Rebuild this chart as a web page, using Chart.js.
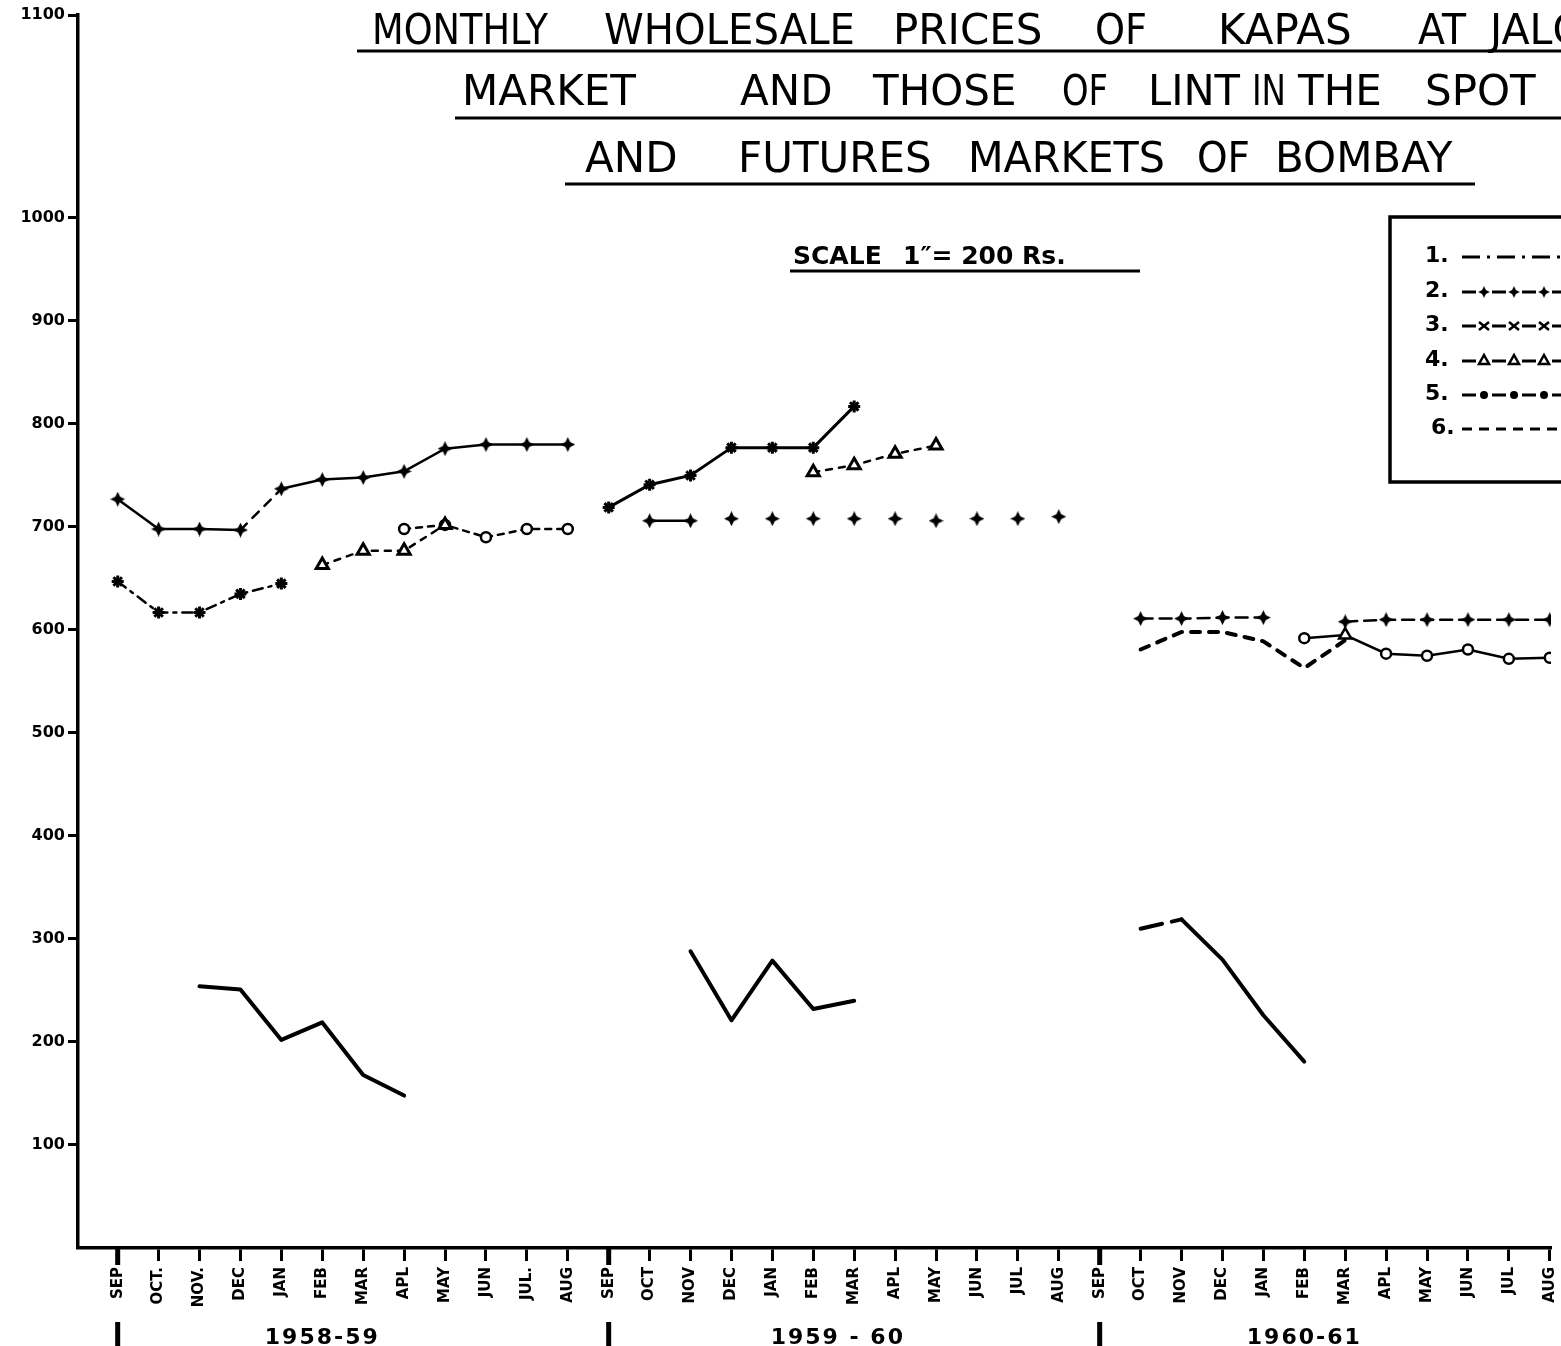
<!DOCTYPE html>
<html>
<head>
<meta charset="utf-8">
<title>Kapas and lint prices</title>
<script src="https://cdn.jsdelivr.net/npm/chart.js@4.4.1/dist/chart.umd.min.js"></script>
<style>
  html, body { margin: 0; padding: 0; background: #fff; overflow: hidden; }
  canvas { display: block; }
</style>
</head>
<body>
<canvas id="priceChart" width="1561" height="1346"></canvas>
<script>
// months Sep 1958 .. Aug 1961, spelled as on the sheet
const months = ['SEP','OCT.','NOV.','DEC','JAN','FEB','MAR','APL','MAY','JUN','JUL.','AUG',
                'SEP','OCT','NOV','DEC','JAN','FEB','MAR','APL','MAY','JUN','JUL','AUG',
                'SEP','OCT','NOV','DEC','JAN','FEB','MAR','APL','MAY','JUN','JUL','AUG'];
const yearLabels = ['1958-59', '1959 - 60', '1960-61'];
const yTicks = [100, 200, 300, 400, 500, 600, 700, 800, 900, 1000];
const yTopLabel = '1100';
const legendLabels = ['1.', '2.', '3.', '4.', '5.', '6.'];
const titleLines = ['MONTHLY WHOLESALE PRICES OF KAPAS AT JALGAON',
                    'MARKET AND THOSE OF LINT IN THE SPOT',
                    'AND FUTURES MARKETS OF BOMBAY'];
const scaleNote = ['SCALE', '1\u2033= 200 Rs.'];

// Rs. per unit, one slot per month (null = not plotted)
const kapas     = [null,null,254,251,202,219,168,148,null,null,null,null,
                   null,null,288,221,279,232,240,null,null,null,null,null,
                   null,310,319,280,226,181,null,null,null,null,null,null];
const diamond   = [727,698,698,697,737,746,748,754,776,780,780,780,
                   null,null,null,null,null,null,null,null,null,null,null,null,
                   null,null,null,null,null,null,null,null,null,null,null,null];
const plusMarks = [null,null,null,null,null,null,null,null,null,null,null,null,
                   null,706,706,708,708,708,708,708,706,708,708,710,
                   null,null,null,null,null,null,null,null,null,null,null,null];
const plusDashed= [null,null,null,null,null,null,null,null,null,null,null,null,
                   null,null,null,null,null,null,null,null,null,null,null,null,
                   null,611,611,612,612,null,608,610,610,610,610,610];
const starLower = [647,617,617,635,645,null,null,null,null,null,null,null,
                   null,null,null,null,null,null,null,null,null,null,null,null,
                   null,null,null,null,null,null,null,null,null,null,null,null];
const starUpper = [null,null,null,null,null,null,null,null,null,null,null,null,
                   719,741,750,777,777,777,817,null,null,null,null,null,
                   null,null,null,null,null,null,null,null,null,null,null,null];
const triangles = [null,null,null,null,null,663,677,677,702,null,null,null,
                   null,null,null,null,null,753,760,771,779,null,null,null,
                   null,null,null,null,null,null,null,null,null,null,null,null];
const circlesA  = [null,null,null,null,null,null,null,698,702,690,698,698,
                   null,null,null,null,null,null,null,null,null,null,null,null,
                   null,null,null,null,null,null,null,null,null,null,null,null];
const circlesB  = [null,null,null,null,null,null,null,null,null,null,null,null,
                   null,null,null,null,null,null,null,null,null,null,null,null,
                   null,null,null,null,null,592,595,577,575,581,572,573];
const dashed6   = [null,null,null,null,null,null,null,null,null,null,null,null,
                   null,null,null,null,null,null,null,null,null,null,null,null,
                   null,581,598,598,589,563,590,null,null,null,null,null];

const toXY = arr => arr.map((v, i) => ({ x: i, y: v }));

// four pointed star marker like the hand drawn ones
function makeStar4(size) {
  const c = document.createElement('canvas');
  c.width = c.height = size;
  const g = c.getContext('2d');
  const m = size / 2, k = size * 0.16;
  g.beginPath();
  g.moveTo(m, 0); g.lineTo(m + k, m - k); g.lineTo(size, m); g.lineTo(m + k, m + k);
  g.lineTo(m, size); g.lineTo(m - k, m + k); g.lineTo(0, m); g.lineTo(m - k, m - k);
  g.closePath();
  g.fill();
  return c;
}
const star4 = makeStar4(15);

const base = { borderColor: '#000', pointBorderColor: '#000', pointBackgroundColor: '#000',
               borderWidth: 2.5, spanGaps: false, borderCapStyle: 'round' };

const datasets = [
  Object.assign({}, base, { label: '1', data: toXY(kapas), borderWidth: 4, pointRadius: 0, borderJoinStyle: 'round',
    segment: { borderDash: c => c.p0DataIndex === 25 ? [22, 10] : undefined } }),
  Object.assign({}, base, { label: '2', data: toXY(diamond), pointStyle: star4,
    segment: { borderDash: c => c.p0DataIndex === 3 ? [9, 8] : undefined } }),
  Object.assign({}, base, { label: '2', data: toXY(plusMarks), pointStyle: star4,
    segment: { borderColor: c => c.p0DataIndex === 13 ? '#000' : 'rgba(0,0,0,0)' } }),
  Object.assign({}, base, { label: '2', data: toXY(plusDashed), pointStyle: star4, borderDash: [12, 7] }),
  Object.assign({}, base, { label: '3', data: toXY(starLower), pointStyle: 'star', pointRadius: 6,
    pointBorderWidth: 3, borderDash: [10, 6, 3, 6] }),
  Object.assign({}, base, { label: '3', data: toXY(starUpper), pointStyle: 'star', pointRadius: 6,
    pointBorderWidth: 3, borderWidth: 3 }),
  Object.assign({}, base, { label: '4', data: toXY(triangles), pointStyle: 'triangle', pointRadius: 7,
    pointBackgroundColor: '#fff', pointBorderWidth: 3, borderDash: [6, 7] }),
  Object.assign({}, base, { label: '5', data: toXY(circlesA), pointStyle: 'circle', pointRadius: 5,
    pointBackgroundColor: '#fff', pointBorderWidth: 2.5, borderDash: [6, 6] }),
  Object.assign({}, base, { label: '5', data: toXY(circlesB),
    pointStyle: circlesB.map((v, i) => i === 30 ? 'triangle' : 'circle'),
    pointRadius: circlesB.map((v, i) => i === 30 ? 7 : 5),
    pointBackgroundColor: '#fff', pointBorderWidth: 2.5 }),
  Object.assign({}, base, { label: '6', data: toXY(dashed6), pointRadius: 0, borderWidth: 4, borderDash: [9, 9] })
];

function drawMarker(ctx, kind, x, y) {
  ctx.save();
  ctx.setLineDash([]);
  ctx.lineWidth = 2.5;
  if (kind === 'star4') {
    ctx.drawImage(star4, x - 6, y - 6, 12, 12);
  } else if (kind === 'x') {
    ctx.beginPath();
    ctx.moveTo(x - 5, y - 4); ctx.lineTo(x + 5, y + 4);
    ctx.moveTo(x - 5, y + 4); ctx.lineTo(x + 5, y - 4);
    ctx.stroke();
  } else if (kind === 'tri') {
    ctx.beginPath();
    ctx.moveTo(x, y - 6); ctx.lineTo(x + 5, y + 3); ctx.lineTo(x - 5, y + 3); ctx.closePath();
    ctx.fillStyle = '#fff'; ctx.fill(); ctx.stroke();
  } else if (kind === 'dot') {
    ctx.beginPath(); ctx.arc(x, y, 4, 0, Math.PI * 2); ctx.fill();
  }
  ctx.restore();
}

const sheetDecor = {
  id: 'sheetDecor',
  beforeDraw(chart) {
    const ctx = chart.ctx;
    ctx.save();
    ctx.fillStyle = '#fff';
    ctx.fillRect(0, 0, chart.width, chart.height);
    ctx.restore();
  },
  afterDraw(chart) {
    const ctx = chart.ctx;
    const xs = chart.scales.x;
    ctx.save();
    ctx.fillStyle = '#000';
    ctx.strokeStyle = '#000';
    ctx.textAlign = 'left';
    ctx.textBaseline = 'alphabetic';

    // heading, word by word like the lettering on the sheet
    ctx.font = '42px "DejaVu Sans"';
    const wordSpots = [
      [[372, 176], [604, 251], [893, 157], [1095, 52], [1218, 152], [1418, 48], [1490, 185]],
      [[462, 218], [740, 95], [873, 152], [1062, 46], [1148, 92], [1252, 34], [1298, 102], [1425, 150]],
      [[585, 100], [738, 197], [968, 197], [1197, 53], [1275, 190]]
    ];
    const baselines = [44, 105, 172];
    titleLines.forEach((line, li) => {
      line.split(' ').forEach((w, wi) => {
        const s = wordSpots[li][wi];
        ctx.fillText(w, s[0], baselines[li], s[1]);
      });
    });
    ctx.lineWidth = 3;
    [[357, 1561, 51], [455, 1561, 118], [565, 1475, 184]].forEach(([a, b, y]) => {
      ctx.beginPath(); ctx.moveTo(a, y); ctx.lineTo(b, y); ctx.stroke();
    });

    // scale note
    ctx.font = 'bold 25px "DejaVu Sans"';
    ctx.fillText(scaleNote[0], 793, 264, 92);
    ctx.fillText(scaleNote[1], 903, 264, 225);
    ctx.lineWidth = 3;
    ctx.beginPath(); ctx.moveTo(790, 271); ctx.lineTo(1140, 271); ctx.stroke();

    // key box (runs off the right edge)
    ctx.lineWidth = 3.5;
    ctx.strokeRect(1390, 217, 400, 265);
    ctx.font = 'bold 22px "DejaVu Sans"';
    const keyY = [262, 297, 331, 366, 400, 434];
    const keyKinds = [null, 'star4', 'x', 'tri', 'dot', null];
    const keyDash = [[18, 7, 3, 7], [14, 16], [14, 16], [14, 16], [14, 16], [10, 7]];
    legendLabels.forEach((t, i) => {
      ctx.fillText(t, 1425 + (i === 5 ? 6 : 0), keyY[i]);
      const y = keyY[i] - 5;
      ctx.save();
      ctx.lineWidth = 3;
      ctx.setLineDash(keyDash[i]);
      ctx.beginPath(); ctx.moveTo(1462, y); ctx.lineTo(1561, y); ctx.stroke();
      ctx.restore();
      if (keyKinds[i]) {
        for (let x = 1484; x < 1561; x += 30) drawMarker(ctx, keyKinds[i], x, y);
      }
    });

    // year separators and year names under the month labels
    [0, 12, 24].forEach(i => {
      const x = xs.getPixelForValue(i);
      ctx.fillRect(x - 2.5, 1248, 5, 17);
      ctx.fillRect(x - 2.5, 1322, 5, 24);
    });
    ctx.font = 'bold 22px "DejaVu Sans"';
    ctx.textAlign = 'center';
    ctx.letterSpacing = '2px';
    [5, 17.6, 29].forEach((v, i) => {
      ctx.fillText(yearLabels[i], xs.getPixelForValue(v), 1344);
    });
    ctx.restore();
  }
};

new Chart(document.getElementById('priceChart').getContext('2d'), {
  type: 'line',
  data: { datasets },
  plugins: [sheetDecor],
  options: {
    responsive: false,
    animation: false,
    events: [],
    layout: { padding: { top: 15, left: 0, right: 0, bottom: 0 } },
    plugins: { legend: { display: false }, tooltip: { enabled: false }, title: { display: false } },
    scales: {
      x: {
        type: 'linear',
        min: -0.97,
        max: 35.03,
        afterBuildTicks: ax => { ax.ticks = months.map((m, i) => ({ value: i })); },
        afterFit: ax => { ax.height = 98; ax.paddingLeft = 0; ax.paddingRight = 0; },
        grid: { drawOnChartArea: false, drawTicks: true, tickLength: 13, tickWidth: 3, tickColor: '#000' },
        border: { color: '#000', width: 3.5 },
        ticks: {
          autoSkip: false, maxRotation: 90, minRotation: 90, padding: 6, color: '#000',
          font: { family: 'DejaVu Sans', weight: 'bold', size: 15 },
          callback: v => months[v]
        }
      },
      y: {
        min: 0,
        max: 1197,
        afterBuildTicks: ax => { ax.ticks = yTicks.concat([1197]).map(v => ({ value: v })); },
        afterFit: ax => { ax.width = 78; ax.paddingTop = 0; ax.paddingBottom = 0; },
        grid: { drawOnChartArea: false, drawTicks: true, tickLength: 10, tickWidth: 3, tickColor: '#000' },
        border: { color: '#000', width: 3.5 },
        ticks: {
          padding: 3, color: '#000',
          font: { family: 'DejaVu Sans', weight: 'bold', size: 16 },
          callback: v => v === 1197 ? yTopLabel : String(v)
        }
      }
    }
  }
});
</script>
</body>
</html>
